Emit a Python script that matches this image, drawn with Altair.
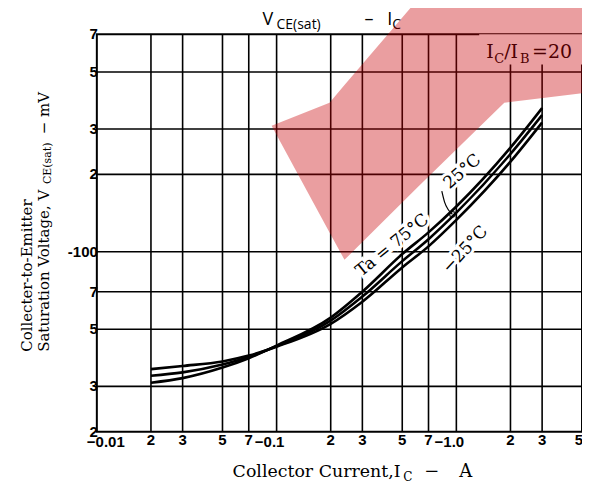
import altair as alt
import pandas as pd

# ---------------- data ----------------
current = [0.02, 0.03, 0.05, 0.07, 0.1, 0.2, 0.3, 0.5, 0.7, 1.0, 2.0, 3.0]
v_75 = [31.0, 32.3, 35.5, 38.6, 43.2, 55.5, 70.0, 98.0, 119.0, 150.0, 254.0, 362.0]
v_25 = [33.0, 34.0, 36.5, 39.0, 43.0, 54.0, 67.0, 92.0, 112.0, 142.0, 240.0, 340.0]
v_m25 = [35.0, 36.0, 37.5, 39.5, 42.8, 52.5, 64.0, 87.0, 105.0, 133.0, 224.0, 318.0]

x_grid = [0.02, 0.03, 0.05, 0.07, 0.1, 0.2, 0.3, 0.5, 0.7, 1.0, 2.0, 3.0]
y_grid = [30, 50, 70, 100, 200, 300, 500]

x_tick_vals = [0.02, 0.03, 0.05, 0.07, 0.2, 0.3, 0.5, 0.7, 2.0, 3.0]
x_tick_text = ["2", "3", "5", "7", "2", "3", "5", "7", "2", "3"]
x_last_val = [5.0]
x_last_text = ["5"]
x_dec_vals = [0.1, 1.0]
x_dec_text = ["\u22120.1", "\u22121.0"]
x_first_val = [0.01]
x_first_text = ["\u22120.01"]

y_tick_vals = [20, 30, 50, 70, 100, 200, 300, 500, 700]
y_tick_text = ["2", "3", "5", "7", "-100", "2", "3", "5", "7"]

# watermark outline (a decoration, in data units)
wm_x = [0.0938, 0.197, 0.2386, 0.6227, 1.848, 5.48]
wm_top = [309, 380, 445, 973, 973, 973]
wm_bot = [309, 119, 93.1, 181, 380, 416]

W, H = 486, 398
xs = alt.Scale(type="log", domain=[0.01, 5], nice=False)
ys = alt.Scale(type="log", domain=[20, 700], nice=False)

curves = pd.DataFrame({
    "I": current * 3,
    "V": v_75 + v_25 + v_m25,
    "T": ["75"] * len(current) + ["25"] * len(current) + ["-25"] * len(current),
})

SERIF = "DejaVu Serif"
SANS = "Liberation Sans"

# ---------------- grid ----------------
vgrid = alt.Chart(pd.DataFrame({"x": x_grid})).mark_rule(color="black", strokeWidth=1.6).encode(
    x=alt.X("x:Q", scale=xs, axis=None), y=alt.value(0), y2=alt.value(H))
hgrid = alt.Chart(pd.DataFrame({"y": y_grid})).mark_rule(color="black", strokeWidth=1.6).encode(
    y=alt.Y("y:Q", scale=ys, axis=None), x=alt.value(0), x2=alt.value(W))

# ---------------- curves ----------------
lines = alt.Chart(curves).mark_line(color="black", strokeWidth=2.6, interpolate="monotone").encode(
    x=alt.X("I:Q", scale=xs, axis=None),
    y=alt.Y("V:Q", scale=ys, axis=None),
    detail="T:N")

# ---------------- tick labels ----------------
tick_style = dict(font=SANS, fontSize=15, fontWeight="bold", baseline="middle")
xt = alt.Chart(pd.DataFrame({"x": x_tick_vals, "t": x_tick_text})).mark_text(
    align="center", **tick_style).encode(
    x=alt.X("x:Q", scale=xs, axis=None), y=alt.value(H + 8), text="t:N")
xl = alt.Chart(pd.DataFrame({"x": x_last_val, "t": x_last_text})).mark_text(
    align="right", dx=1, **tick_style).encode(
    x=alt.X("x:Q", scale=xs, axis=None), y=alt.value(H + 8), text="t:N")
xd = alt.Chart(pd.DataFrame({"x": x_dec_vals, "t": x_dec_text})).mark_text(
    align="center", dx=-7, **tick_style).encode(
    x=alt.X("x:Q", scale=xs, axis=None), y=alt.value(H + 10), text="t:N")
xf = alt.Chart(pd.DataFrame({"x": x_first_val, "t": x_first_text})).mark_text(
    align="left", dx=-10, **tick_style).encode(
    x=alt.X("x:Q", scale=xs, axis=None), y=alt.value(H + 10), text="t:N")
yt = alt.Chart(pd.DataFrame({"y": y_tick_vals, "t": y_tick_text})).mark_text(
    align="right", **tick_style).encode(
    y=alt.Y("y:Q", scale=ys, axis=None), x=alt.value(1), text="t:N")


def ptxt(text, px, py, size, font, angle=0, align="left", baseline="alphabetic", weight="normal"):
    return alt.Chart(pd.DataFrame({"t": [text]})).mark_text(
        font=font, fontSize=size, angle=angle, align=align, baseline=baseline,
        fontWeight=weight, color="black").encode(
        x=alt.value(px), y=alt.value(py), text="t:N")


def dtxt(text, xv, yv, size, angle=0, align="center", baseline="middle", halo=True):
    df = pd.DataFrame({"x": [xv], "y": [yv], "t": [text]})
    enc = dict(x=alt.X("x:Q", scale=xs, axis=None), y=alt.Y("y:Q", scale=ys, axis=None), text="t:N")
    layers = []
    if halo:
        layers.append(alt.Chart(df).mark_text(font=SERIF, fontSize=size, angle=angle, align=align,
                                              baseline=baseline, color="white", stroke="white",
                                              strokeWidth=6).encode(**enc))
    layers.append(alt.Chart(df).mark_text(font=SERIF, fontSize=size, angle=angle, align=align,
                                          baseline=baseline, color="black").encode(**enc))
    return layers


# ---------------- title ----------------
title = [
    ptxt("V", 166, -9, 18, "Open Sans"),
    ptxt("CE(sat)", 180, -5, 14, "Open Sans"),
    ptxt("\u2013", 268, -9, 18, "Open Sans"),
    ptxt("I", 291, -9, 18, "Open Sans"),
    ptxt("C", 296, -5, 14, "Open Sans"),
]

# ---------------- axis titles ----------------
xtitle = [
    ptxt("Collector Current,I", 136, 443, 17.4, SERIF),
    ptxt("C", 307, 447, 12, SERIF),
    ptxt("\u2212", 328, 443, 18, SERIF),
    ptxt("A", 363, 443, 18, SERIF),
]
ytitle = [
    ptxt("Collecter-to-Emitter", -70, 318, 15, SERIF, angle=270, baseline="middle"),
    ptxt("Saturation Voltage, V", -53, 318, 15, SERIF, angle=270, baseline="middle"),
    ptxt("CE(sat)", -49, 150, 11, SERIF, angle=270, baseline="middle"),
    ptxt("\u2212 mV", -53, 100, 15, SERIF, angle=270, baseline="middle"),
]

# ---------------- annotations ----------------
box = alt.Chart(pd.DataFrame({"x": [1.34], "x2": [5.0], "y": [534], "y2": [700]})).mark_rect(
    color="white").encode(
    x=alt.X("x:Q", scale=xs, axis=None), x2="x2:Q",
    y=alt.Y("y:Q", scale=ys, axis=None), y2="y2:Q")

ratio = [
    ptxt("I", 390, 24, 19, SERIF),
    ptxt("C", 398, 29, 13, SERIF),
    ptxt("/I", 408, 24, 19, SERIF),
    ptxt("B", 424, 29, 13, SERIF),
    ptxt("=20", 436, 24, 19, SERIF),
]

labels = []
labels += dtxt("Ta = 75\u00b0C", 0.44, 106, 17, angle=321)
labels += dtxt("25\u00b0C", 1.08, 205, 17, angle=319)
labels += dtxt("\u221225\u00b0C", 1.12, 102, 17, angle=313)

arrow_df = pd.DataFrame({"x": [0.83, 0.86, 0.90, 0.95], "y": [172, 156, 146, 140], "o": [0, 1, 2, 3]})
arrow = alt.Chart(arrow_df).mark_line(color="black", strokeWidth=1.2, interpolate="monotone").encode(
    x=alt.X("x:Q", scale=xs, axis=None), y=alt.Y("y:Q", scale=ys, axis=None), order="o:Q")
dot = alt.Chart(pd.DataFrame({"x": [0.95], "y": [140]})).mark_point(
    shape="circle", size=30, color="black", filled=False, strokeWidth=1.5).encode(
    x=alt.X("x:Q", scale=xs, axis=None), y=alt.Y("y:Q", scale=ys, axis=None))

watermark = alt.Chart(pd.DataFrame({"x": wm_x, "top": wm_top, "bot": wm_bot})).mark_area(
    color="#c80005", opacity=0.38, interpolate="linear").encode(
    x=alt.X("x:Q", scale=xs, axis=None),
    y=alt.Y("top:Q", scale=ys, axis=None), y2="bot:Q")

chart = alt.layer(
    vgrid, hgrid, box, lines, *labels, arrow, dot, xt, xl, xd, xf, yt,
    *title, *xtitle, *ytitle, *ratio, watermark
).properties(
    width=W, height=H,
    padding={"left": 89, "top": 26, "right": 0, "bottom": 50},
    autosize=alt.AutoSizeParams(type="none"),
).configure_view(stroke="black", strokeWidth=2)

chart.save("out.html", embed_options={"renderer": "svg", "actions": False})
